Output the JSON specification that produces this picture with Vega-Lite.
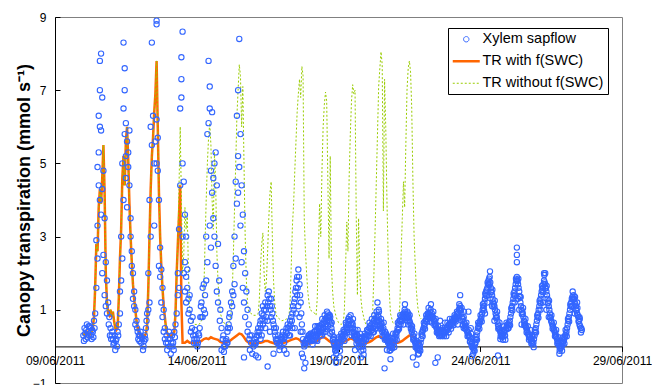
{
"$schema": "https://vega.github.io/schema/vega-lite/v6.json",
"width": 567, "height": 366,
"autosize": {"type": "none"},
"padding": {"left": 55, "top": 17, "right": 30, "bottom": 2},
"background": "white",
"config": {
  "view": {"stroke": "#808080", "strokeWidth": 1},
  "font": "Liberation Sans",
  "axis": {"grid": false, "labelFont": "Liberation Sans", "labelColor": "black", "domainColor": "black", "tickColor": "black", "labelFontSize": 12}
},
"datasets": {
"trw": [
{"t":24,"v":0.3},{"t":25,"v":0.35},{"t":26,"v":0.3},{"t":27,"v":0.4},{"t":28,"v":0.35},{"t":29,"v":0.3},{"t":30,"v":0.35},{"t":31,"v":0.4},{"t":32,"v":0.5},{"t":33,"v":0.8},{"t":34,"v":1.6},{"t":35,"v":2.8},{"t":36,"v":2.6},{"t":37,"v":3.8},{"t":38,"v":4.3},{"t":39,"v":3.9},{"t":40,"v":4.6},{"t":41,"v":5.5},{"t":42,"v":4.2},{"t":43,"v":2.0},{"t":44,"v":1.2},{"t":45,"v":0.9},{"t":46,"v":0.85},{"t":47,"v":1.0},{"t":48,"v":0.8},{"t":49,"v":0.95},{"t":50,"v":0.7},{"t":51,"v":0.5},{"t":52,"v":0.45},{"t":53,"v":0.5},{"t":54,"v":1.3},{"t":55,"v":2.4},{"t":56,"v":3.2},{"t":57,"v":4.6},{"t":58,"v":5.2},{"t":59,"v":4.4},{"t":60,"v":5.6},{"t":61,"v":6.0},{"t":62,"v":5.1},{"t":63,"v":3.9},{"t":64,"v":3.0},{"t":65,"v":2.3},{"t":66,"v":1.7},{"t":67,"v":1.3},{"t":68,"v":1.0},{"t":69,"v":0.7},{"t":70,"v":0.5},{"t":71,"v":0.4},{"t":72,"v":0.3},{"t":73,"v":0.3},{"t":74,"v":0.25},{"t":75,"v":0.3},{"t":76,"v":0.3},{"t":77,"v":0.35},{"t":78,"v":0.6},{"t":79,"v":1.6},{"t":80,"v":3.0},{"t":81,"v":4.3},{"t":82,"v":5.2},{"t":83,"v":5.7},{"t":84,"v":6.4},{"t":85,"v":6.9},{"t":86,"v":7.8},{"t":87,"v":6.0},{"t":88,"v":4.2},{"t":89,"v":3.0},{"t":90,"v":2.2},{"t":91,"v":1.6},{"t":92,"v":1.1},{"t":93,"v":0.8},{"t":94,"v":0.5},{"t":95,"v":0.35},{"t":96,"v":0.3},{"t":97,"v":0.3},{"t":98,"v":0.25},{"t":99,"v":0.3},{"t":100,"v":0.35},{"t":101,"v":0.4},{"t":102,"v":0.9},{"t":103,"v":2.0},{"t":104,"v":2.8},{"t":105,"v":3.6},{"t":106,"v":4.4},{"t":107,"v":1.2},{"t":108,"v":0.1},{"t":110,"v":0.1},{"t":112,"v":0.15},{"t":114,"v":0.1},{"t":116,"v":0.1},{"t":118,"v":0.1},{"t":120,"v":0.1},{"t":122,"v":0.12},{"t":124,"v":0.15},{"t":126,"v":0.2},{"t":128,"v":0.22},{"t":130,"v":0.2},{"t":132,"v":0.25},{"t":134,"v":0.22},{"t":136,"v":0.2},{"t":138,"v":0.18},{"t":140,"v":0.12},{"t":142,"v":0.1},{"t":144,"v":0.1},{"t":146,"v":0.12},{"t":148,"v":0.15},{"t":150,"v":0.2},{"t":152,"v":0.25},{"t":154,"v":0.3},{"t":156,"v":0.35},{"t":158,"v":0.33},{"t":160,"v":0.25},{"t":162,"v":0.15},{"t":164,"v":0.1},{"t":166,"v":0.08},{"t":168,"v":0.08},{"t":170,"v":0.08},{"t":172,"v":0.1},{"t":174,"v":0.1},{"t":176,"v":0.12},{"t":178,"v":0.15},{"t":180,"v":0.15},{"t":182,"v":0.12},{"t":184,"v":0.1},{"t":186,"v":0.08},{"t":188,"v":0.08},{"t":190,"v":0.1},{"t":192,"v":0.1},{"t":194,"v":0.1},{"t":196,"v":0.12},{"t":198,"v":0.15},{"t":200,"v":0.18},{"t":202,"v":0.2},{"t":204,"v":0.22},{"t":206,"v":0.2},{"t":208,"v":0.15},{"t":210,"v":0.1},{"t":212,"v":0.1},{"t":214,"v":0.08},{"t":216,"v":0.08},{"t":218,"v":0.1},{"t":220,"v":0.12},{"t":222,"v":0.15},{"t":224,"v":0.2},{"t":226,"v":0.25},{"t":228,"v":0.25},{"t":230,"v":0.2},{"t":232,"v":0.15},{"t":234,"v":0.1},{"t":236,"v":0.08},{"t":238,"v":0.08},{"t":240,"v":0.08},{"t":242,"v":0.1},{"t":244,"v":0.12},{"t":246,"v":0.15},{"t":248,"v":0.18},{"t":250,"v":0.22},{"t":252,"v":0.2},{"t":254,"v":0.15},{"t":256,"v":0.1},{"t":258,"v":0.08},{"t":260,"v":0.08},{"t":262,"v":0.08},{"t":264,"v":0.1},{"t":266,"v":0.12},{"t":268,"v":0.15},{"t":270,"v":0.2},{"t":272,"v":0.25},{"t":274,"v":0.28},{"t":276,"v":0.25},{"t":278,"v":0.2},{"t":280,"v":0.15},{"t":282,"v":0.1},{"t":284,"v":0.08},{"t":286,"v":0.08},{"t":288,"v":0.1},{"t":290,"v":0.1},{"t":292,"v":0.12},{"t":294,"v":0.15},{"t":296,"v":0.2},{"t":298,"v":0.25},{"t":300,"v":0.3},{"t":302,"v":0.3},{"t":304,"v":0.25},{"t":306,"v":0.15},{"t":308,"v":0.1},{"t":310,"v":0.08}
],
"tro": [
{"t":24,"v":0.3},{"t":25,"v":0.35},{"t":26,"v":0.3},{"t":27,"v":0.4},{"t":28,"v":0.35},{"t":29,"v":0.3},{"t":30,"v":0.35},{"t":31,"v":0.4},{"t":32,"v":0.5},{"t":33,"v":0.8},{"t":34,"v":1.6},{"t":35,"v":2.8},{"t":36,"v":2.6},{"t":37,"v":3.8},{"t":38,"v":4.3},{"t":39,"v":3.9},{"t":40,"v":4.6},{"t":41,"v":5.5},{"t":42,"v":4.2},{"t":43,"v":2.0},{"t":44,"v":1.2},{"t":45,"v":0.9},{"t":46,"v":0.85},{"t":47,"v":1.0},{"t":48,"v":0.8},{"t":49,"v":0.95},{"t":50,"v":0.7},{"t":51,"v":0.5},{"t":52,"v":0.45},{"t":53,"v":0.5},{"t":54,"v":1.3},{"t":55,"v":2.4},{"t":56,"v":3.2},{"t":57,"v":4.6},{"t":58,"v":5.2},{"t":59,"v":4.4},{"t":60,"v":5.6},{"t":61,"v":6.0},{"t":62,"v":5.1},{"t":63,"v":3.9},{"t":64,"v":3.0},{"t":65,"v":2.3},{"t":66,"v":1.7},{"t":67,"v":1.3},{"t":68,"v":1.0},{"t":69,"v":0.7},{"t":70,"v":0.5},{"t":71,"v":0.4},{"t":72,"v":0.3},{"t":73,"v":0.3},{"t":74,"v":0.25},{"t":75,"v":0.3},{"t":76,"v":0.3},{"t":77,"v":0.35},{"t":78,"v":0.6},{"t":79,"v":1.6},{"t":80,"v":3.0},{"t":81,"v":4.3},{"t":82,"v":5.2},{"t":83,"v":5.7},{"t":84,"v":6.4},{"t":85,"v":6.9},{"t":86,"v":7.8},{"t":87,"v":6.0},{"t":88,"v":4.2},{"t":89,"v":3.0},{"t":90,"v":2.2},{"t":91,"v":1.6},{"t":92,"v":1.1},{"t":93,"v":0.8},{"t":94,"v":0.5},{"t":95,"v":0.35},{"t":96,"v":0.3},{"t":97,"v":0.3},{"t":98,"v":0.25},{"t":99,"v":0.3},{"t":100,"v":0.35},{"t":101,"v":0.4},
{"t":102,"v":0.9},{"t":103,"v":2.0},{"t":104,"v":2.8},{"t":105,"v":4.4},{"t":106,"v":6.0},{"t":107,"v":4.0},{"t":108,"v":2.0},{"t":109,"v":2.5},{"t":110,"v":3.8},{"t":111,"v":3.2},{"t":112,"v":3.6},{"t":113,"v":2.0},{"t":114,"v":1.0},{"t":115,"v":0.8},{"t":116,"v":0.7},{"t":118,"v":0.6},{"t":120,"v":0.6},{"t":122,"v":0.6},{"t":124,"v":0.7},{"t":125,"v":0.9},{"t":126,"v":1.5},{"t":127,"v":2.8},{"t":128,"v":4.0},{"t":129,"v":5.0},{"t":130,"v":5.7},{"t":131,"v":6.1},{"t":132,"v":5.5},{"t":133,"v":4.0},{"t":134,"v":3.2},{"t":135,"v":5.3},{"t":136,"v":4.5},{"t":137,"v":2.6},{"t":138,"v":1.8},{"t":139,"v":1.2},{"t":140,"v":0.9},{"t":142,"v":0.7},{"t":144,"v":0.6},{"t":146,"v":0.6},{"t":148,"v":0.7},{"t":149,"v":0.9},{"t":150,"v":1.4},{"t":151,"v":2.5},{"t":152,"v":3.8},{"t":153,"v":5.0},{"t":154,"v":6.3},{"t":155,"v":7.0},{"t":156,"v":7.7},{"t":157,"v":7.4},{"t":158,"v":6.0},{"t":159,"v":7.1},{"t":160,"v":5.0},{"t":161,"v":3.0},{"t":162,"v":1.8},{"t":163,"v":1.2},{"t":164,"v":0.95},{"t":166,"v":0.9},{"t":168,"v":0.85},{"t":170,"v":0.85},{"t":172,"v":0.9},{"t":173,"v":1.3},{"t":174,"v":2.2},{"t":175,"v":2.8},{"t":176,"v":3.1},{"t":177,"v":2.0},{"t":178,"v":1.5},{"t":179,"v":1.8},{"t":180,"v":2.6},{"t":181,"v":3.5},{"t":182,"v":4.2},{"t":183,"v":4.5},{"t":184,"v":3.0},{"t":185,"v":1.8},{"t":186,"v":1.2},{"t":187,"v":0.9},{"t":188,"v":0.8},{"t":190,"v":0.75},{"t":192,"v":0.7},{"t":194,"v":0.72},
{"t":196,"v":0.75},{"t":198,"v":0.8},{"t":199,"v":1.2},{"t":200,"v":2.2},{"t":201,"v":3.3},{"t":202,"v":3.9},{"t":203,"v":4.8},{"t":204,"v":5.6},{"t":205,"v":6.4},{"t":206,"v":6.9},{"t":207,"v":7.3},{"t":208,"v":6.8},{"t":209,"v":7.65},{"t":210,"v":7.4},{"t":211,"v":3.5},{"t":212,"v":2.6},{"t":213,"v":2.0},{"t":214,"v":1.5},{"t":215,"v":1.2},{"t":216,"v":1.0},{"t":218,"v":0.95},{"t":220,"v":0.9},{"t":221,"v":0.85},{"t":222,"v":1.3},{"t":223,"v":2.6},{"t":224,"v":3.9},{"t":225,"v":3.0},{"t":226,"v":4.8},{"t":227,"v":6.0},{"t":228,"v":6.6},{"t":229,"v":6.95},{"t":230,"v":6.7},{"t":231,"v":4.5},{"t":232,"v":2.4},{"t":233,"v":5.2},{"t":234,"v":2.2},{"t":235,"v":1.5},{"t":236,"v":1.1},{"t":238,"v":0.8},{"t":240,"v":0.65},{"t":242,"v":0.6},{"t":244,"v":0.63},{"t":245,"v":1.0},{"t":246,"v":2.2},{"t":247,"v":3.4},{"t":248,"v":2.6},{"t":249,"v":4.6},{"t":250,"v":5.8},{"t":251,"v":6.7},{"t":252,"v":7.15},{"t":253,"v":6.9},{"t":254,"v":7.0},{"t":255,"v":3.6},{"t":256,"v":1.4},{"t":257,"v":3.5},{"t":258,"v":2.0},{"t":259,"v":1.3},{"t":260,"v":1.0},{"t":262,"v":0.7},{"t":264,"v":0.55},{"t":266,"v":0.55},{"t":268,"v":0.6},{"t":269,"v":1.0},{"t":270,"v":2.0},{"t":271,"v":3.2},{"t":272,"v":4.5},{"t":273,"v":5.8},{"t":274,"v":7.1},{"t":275,"v":7.6},{"t":276,"v":8.05},{"t":277,"v":7.7},{"t":278,"v":3.7},{"t":279,"v":7.3},{"t":280,"v":6.0},{"t":281,"v":4.0},{"t":282,"v":2.5},{"t":283,"v":1.5},{"t":284,"v":0.9},{"t":286,"v":0.65},{"t":288,"v":0.6},{"t":290,"v":0.6},{"t":291,"v":0.65},{"t":292,"v":1.2},{"t":293,"v":2.5},{"t":294,"v":3.5},{"t":295,"v":4.5},{"t":296,"v":3.8},{"t":297,"v":5.5},{"t":298,"v":7.0},{"t":299,"v":7.6},{"t":300,"v":7.8},{"t":301,"v":7.5},{"t":302,"v":6.5},{"t":303,"v":4.5},{"t":304,"v":3.0},{"t":305,"v":2.2},{"t":306,"v":1.5},{"t":307,"v":1.1},{"t":308,"v":0.9},{"t":309,"v":0.8},{"t":310,"v":0.75}
],
"sap": [
{"t":24,"v":0.3},{"t":25,"v":0.5},{"t":26,"v":0.2},{"t":27,"v":0.6},{"t":28,"v":0.4},{"t":29,"v":0.3},{"t":30,"v":0.5},{"t":31,"v":0.2},{"t":32,"v":0.4},{"t":33,"v":0.7},{"t":34,"v":0.9},{"t":35,"v":1.6},{"t":36,"v":2.4},{"t":37,"v":4.4},{"t":38,"v":6},{"t":39,"v":8},{"t":40,"v":6.8},{"t":41,"v":4.8},{"t":42,"v":3.5},{"t":43,"v":2.3},{"t":44,"v":1.8},{"t":45,"v":1.2},{"t":46,"v":0.8},{"t":47,"v":0.5},
{"t":24.5,"v":0.15},{"t":25.5,"v":0.35},{"t":26.5,"v":0.45},{"t":27.5,"v":0.25},{"t":28.5,"v":0.55},{"t":29.5,"v":0.55},{"t":30.5,"v":0.3},{"t":31.5,"v":0.45},{"t":32.5,"v":0.25},{"t":33.5,"v":0.5},{"t":35,"v":2.9},{"t":36,"v":3.3},{"t":36,"v":4.9},{"t":37,"v":5.3},{"t":37,"v":6.3},{"t":38,"v":7},{"t":38,"v":4},{"t":38,"v":7.8},{"t":39,"v":5.9},{"t":39,"v":3.6},{"t":40,"v":4.3},{"t":40,"v":2},{"t":41,"v":2.5},{"t":42,"v":1.4},{"t":43,"v":1.1},{"t":44,"v":0.9},{"t":45.5,"v":0.6},{"t":46.5,"v":0.3},
{"t":48,"v":0.3},{"t":49,"v":0.2},{"t":50,"v":0.1},{"t":51,"v":-0.1},{"t":52,"v":0.2},{"t":53,"v":0.4},{"t":54,"v":0.6},{"t":55,"v":1.5},{"t":56,"v":3},{"t":57,"v":5},{"t":58,"v":8.3},{"t":59,"v":7},{"t":60,"v":6.1},{"t":61,"v":5.6},{"t":62,"v":5.3},{"t":63,"v":4.4},{"t":64,"v":3.5},{"t":65,"v":2.6},{"t":66,"v":2},{"t":67,"v":1.5},{"t":68,"v":1},{"t":69,"v":0.7},{"t":70,"v":0.4},{"t":71,"v":0.3},
{"t":47.5,"v":0.2},{"t":48.5,"v":0.4},{"t":49.5,"v":0.05},{"t":50.5,"v":0.3},{"t":51.5,"v":0.15},{"t":52.5,"v":0},{"t":53.5,"v":0.3},{"t":55,"v":0.9},{"t":56,"v":1.8},{"t":57,"v":2.4},{"t":58,"v":6.5},{"t":58,"v":4},{"t":59,"v":5.8},{"t":59,"v":7.6},{"t":60,"v":4.6},{"t":60,"v":5.2},{"t":61,"v":3.8},{"t":62,"v":4.9},{"t":63,"v":5.9},{"t":64,"v":3},{"t":65,"v":2.2},{"t":66,"v":1.3},{"t":67,"v":1.1},{"t":68,"v":0.6},{"t":69.5,"v":0.5},{"t":70.5,"v":0.2},
{"t":72,"v":0.3},{"t":73,"v":0.1},{"t":74,"v":0.2},{"t":75,"v":0},{"t":76,"v":0.3},{"t":77,"v":0.5},{"t":78,"v":0.9},{"t":79,"v":2},{"t":80,"v":4},{"t":81,"v":6},{"t":82,"v":8.3},{"t":83,"v":6.3},{"t":84,"v":5},{"t":85,"v":5.6},{"t":86,"v":8.9},{"t":87,"v":4.8},{"t":88,"v":4},{"t":89,"v":2.7},{"t":90,"v":2.1},{"t":91,"v":1.6},{"t":92,"v":1},{"t":93,"v":0.5},{"t":94,"v":0.1},{"t":95,"v":-0.1},
{"t":71.5,"v":0.15},{"t":72.5,"v":0.4},{"t":73.5,"v":0.25},{"t":74.5,"v":-0.1},{"t":75.5,"v":0.15},{"t":76.5,"v":0.2},{"t":77.5,"v":0.7},{"t":79,"v":1},{"t":80,"v":1.2},{"t":81,"v":3},{"t":82,"v":5.5},{"t":84,"v":3.3},{"t":86,"v":8.8},{"t":86,"v":6.2},{"t":86,"v":5},{"t":87,"v":5.7},{"t":88,"v":2.2},{"t":89,"v":1.9},{"t":90,"v":1.2},{"t":91,"v":0.8},{"t":92,"v":0.4},{"t":93,"v":0.2},{"t":94.5,"v":0.3},
{"t":96,"v":0.2},{"t":97,"v":0},{"t":98,"v":-0.2},{"t":99,"v":0.3},{"t":100,"v":0.1},{"t":101,"v":0.4},{"t":102,"v":0.6},{"t":103,"v":0.9},{"t":104,"v":2},{"t":105,"v":3.2},{"t":106,"v":6.5},{"t":107,"v":7.9},{"t":108,"v":8.6},{"t":109,"v":4.5},{"t":110,"v":2.3},{"t":111,"v":1.9},{"t":112,"v":1.6},{"t":113,"v":1.3},{"t":114,"v":1},{"t":115,"v":0.7},{"t":116,"v":0.5},{"t":117,"v":0.3},{"t":118,"v":0.2},{"t":119,"v":0.3},
{"t":95.5,"v":0.1},{"t":96.5,"v":0.4},{"t":97.5,"v":0.2},{"t":98.5,"v":0.1},{"t":99.5,"v":0},{"t":100.5,"v":-0.1},{"t":101.5,"v":0.25},{"t":104,"v":1.4},{"t":105,"v":1.6},{"t":106,"v":4.4},{"t":107,"v":7.3},{"t":107,"v":6.8},{"t":108,"v":5},{"t":108,"v":3},{"t":109,"v":2},{"t":110,"v":3.6},{"t":110,"v":1.5},{"t":111,"v":3},{"t":111,"v":1.2},{"t":112,"v":2.1},{"t":113,"v":0.9},{"t":114,"v":1.4},{"t":115,"v":0.4},{"t":116.5,"v":0.8},{"t":117.5,"v":0.1},{"t":118.5,"v":0.45},
{"t":120,"v":0.2},{"t":121,"v":0.1},{"t":122,"v":0.3},{"t":123,"v":0.8},{"t":124,"v":1.2},{"t":125,"v":1.6},{"t":126,"v":1},{"t":127,"v":1.4},{"t":128,"v":3},{"t":129,"v":5.8},{"t":130,"v":7.8},{"t":131,"v":6.5},{"t":132,"v":4.8},{"t":133,"v":4.2},{"t":134,"v":3.5},{"t":135,"v":5},{"t":136,"v":5.3},{"t":137,"v":4.4},{"t":138,"v":2.8},{"t":139,"v":1.8},{"t":140,"v":1},{"t":141,"v":0.5},{"t":142,"v":0.2},{"t":143,"v":0},
{"t":119.5,"v":0.1},{"t":120.5,"v":0},{"t":121.5,"v":0.35},{"t":122.5,"v":0.5},{"t":123.5,"v":1.1},{"t":124,"v":0.8},{"t":125,"v":0.8},{"t":126,"v":1.7},{"t":127,"v":0.9},{"t":128,"v":1.8},{"t":129,"v":2.3},{"t":130,"v":6.1},{"t":131,"v":7.1},{"t":131,"v":3.3},{"t":132,"v":2.7},{"t":133,"v":6.4},{"t":134,"v":4.6},{"t":135,"v":3},{"t":136,"v":2.2},{"t":137,"v":1.5},{"t":138,"v":1.2},{"t":139.5,"v":0.7},{"t":141,"v":-0.1},{"t":142.5,"v":0.3},{"t":143,"v":-0.15},
{"t":144,"v":0},{"t":145,"v":0.2},{"t":146,"v":0.4},{"t":147,"v":0.6},{"t":148,"v":0.9},{"t":149,"v":1.2},{"t":150,"v":1.5},{"t":151,"v":2.2},{"t":152,"v":3},{"t":153,"v":4.5},{"t":154,"v":6.3},{"t":155,"v":7},{"t":156,"v":8.4},{"t":157,"v":5.8},{"t":158,"v":4.4},{"t":159,"v":3.6},{"t":160,"v":2.6},{"t":161,"v":2},{"t":162,"v":1.5},{"t":163,"v":1},{"t":164,"v":0.6},{"t":165,"v":0.3},{"t":166,"v":0.1},{"t":167,"v":-0.2},
{"t":144.5,"v":0.15},{"t":145.5,"v":0.1},{"t":146,"v":0.1},{"t":146.5,"v":0.5},{"t":147.5,"v":0.8},{"t":148,"v":0.5},{"t":150,"v":1.1},{"t":151,"v":1.4},{"t":152,"v":1.7},{"t":153,"v":2.4},{"t":154,"v":3.9},{"t":155,"v":5.2},{"t":155,"v":4.2},{"t":156,"v":4.9},{"t":157,"v":3.3},{"t":158,"v":2.3},{"t":159,"v":1.6},{"t":160,"v":1.2},{"t":160,"v":-0.3},{"t":161,"v":0.8},{"t":163,"v":0.4},{"t":164.5,"v":0.2},{"t":165,"v":-0.1},{"t":166.5,"v":0.3},
{"t":168,"v":0},{"t":169,"v":0.2},{"t":170,"v":0.1},{"t":171,"v":0.3},{"t":172,"v":0.5},{"t":173,"v":0.4},{"t":174,"v":0.7},{"t":175,"v":0.9},{"t":176,"v":0.6},{"t":177,"v":1},{"t":178,"v":1.2},{"t":179,"v":0.8},{"t":180,"v":1.4},{"t":181,"v":1.5},{"t":182,"v":1.1},{"t":183,"v":1.3},{"t":184,"v":0.9},{"t":185,"v":0.6},{"t":186,"v":0.4},{"t":187,"v":0.2},{"t":188,"v":0.1},{"t":189,"v":0.3},{"t":190,"v":-0.1},{"t":191,"v":0},
{"t":170,"v":-0.25},{"t":172,"v":-0.3},{"t":174,"v":0.2},{"t":175,"v":0.3},{"t":176,"v":1.1},{"t":178,"v":0.5},{"t":180,"v":0.7},{"t":180,"v":-0.55},{"t":182,"v":0.4},{"t":183,"v":0.8},{"t":185,"v":-0.2},{"t":187,"v":0.5},
{"t":168.5,"v":0.1},{"t":169.5,"v":0.05},{"t":170.5,"v":0.25},{"t":171.5,"v":0.4},{"t":172.5,"v":0.3},{"t":173.5,"v":0.6},{"t":174.5,"v":0.5},{"t":175.5,"v":0.75},{"t":176.5,"v":0.85},{"t":177.5,"v":0.7},{"t":178.5,"v":1.0},{"t":179.5,"v":1.1},{"t":180.5,"v":1.2},{"t":181.5,"v":1.3},{"t":182.5,"v":1.0},{"t":183.5,"v":1.1},{"t":184.5,"v":0.7},{"t":185.5,"v":0.5},{"t":186.5,"v":0.3},{"t":187.5,"v":0.15},{"t":188.5,"v":0.2},{"t":189.5,"v":0.05},{"t":190.5,"v":0.1},{"t":191.5,"v":0.25},
{"t":192,"v":0.2},{"t":193,"v":0.4},{"t":194,"v":0.1},{"t":195,"v":0.3},{"t":196,"v":0.5},{"t":197,"v":0.6},{"t":198,"v":0.3},{"t":199,"v":0.7},{"t":200,"v":0.8},{"t":201,"v":0.9},{"t":202,"v":1},{"t":203,"v":1.3},{"t":204,"v":1.6},{"t":205,"v":1.9},{"t":206,"v":2.1},{"t":207,"v":1.7},{"t":208,"v":1.2},{"t":209,"v":0.6},{"t":210,"v":0.2},{"t":211,"v":0},{"t":212,"v":0.1},{"t":213,"v":0.2},{"t":214,"v":0.2},{"t":215,"v":0.3},
{"t":194,"v":-0.1},{"t":196,"v":-0.2},{"t":199,"v":0.3},{"t":201,"v":0.5},{"t":203,"v":0.5},{"t":204,"v":0.9},{"t":205,"v":1.4},{"t":206,"v":1.1},{"t":207,"v":0.8},{"t":208,"v":0.4},{"t":209,"v":-0.2},{"t":210,"v":-0.3},{"t":211,"v":-0.6},{"t":212,"v":-0.45},
{"t":192.5,"v":0.3},{"t":193.5,"v":0.2},{"t":194.5,"v":0.25},{"t":195.5,"v":0.4},{"t":196.5,"v":0.35},{"t":197.5,"v":0.5},{"t":198.5,"v":0.55},{"t":199.5,"v":0.6},{"t":200.5,"v":0.7},{"t":201.5,"v":1.1},{"t":202.5,"v":1.2},{"t":203.5,"v":1.5},{"t":204.5,"v":1.8},{"t":205.5,"v":1.6},{"t":206.5,"v":1.9},{"t":207.5,"v":1.4},{"t":208.5,"v":0.9},{"t":209.5,"v":0.4},{"t":210.5,"v":0.1},{"t":211.5,"v":0.05},{"t":212.5,"v":0.15},{"t":213.5,"v":0.1},{"t":214.5,"v":0.3},{"t":215.5,"v":0.25},
{"t":216,"v":0.2},{"t":217,"v":0.3},{"t":218,"v":0.2},{"t":219,"v":0.3},{"t":220,"v":0.4},{"t":221,"v":0.3},{"t":222,"v":0.4},{"t":223,"v":0.5},{"t":224,"v":0.4},{"t":225,"v":0.5},{"t":226,"v":0.6},{"t":227,"v":0.5},{"t":228,"v":0.7},{"t":229,"v":0.6},{"t":230,"v":0.8},{"t":231,"v":0.9},{"t":232,"v":0.7},{"t":233,"v":0.8},{"t":234,"v":0.5},{"t":235,"v":0.3},{"t":236,"v":0.1},{"t":237,"v":0},{"t":238,"v":-0.2},{"t":239,"v":0.1},
{"t":218,"v":0.05},{"t":222,"v":0.15},{"t":226,"v":0.3},{"t":229,"v":0.4},{"t":231,"v":0.55},{"t":233,"v":0.35},{"t":236,"v":-0.3},{"t":238,"v":-0.45},
{"t":216.5,"v":0.35},{"t":217.5,"v":0.15},{"t":218.5,"v":0.3},{"t":219.5,"v":0.4},{"t":220.5,"v":0.25},{"t":221.5,"v":0.45},{"t":222.5,"v":0.35},{"t":223.5,"v":0.55},{"t":224.5,"v":0.3},{"t":225.5,"v":0.6},{"t":226.5,"v":0.45},{"t":227.5,"v":0.65},{"t":228.5,"v":0.55},{"t":229.5,"v":0.75},{"t":230.5,"v":0.7},{"t":231.5,"v":0.8},{"t":232.5,"v":0.85},{"t":233.5,"v":0.6},{"t":234.5,"v":0.4},{"t":235.5,"v":0.2},{"t":236.5,"v":0.05},{"t":237.5,"v":-0.1},{"t":238.5,"v":0},{"t":239.5,"v":0.05},
{"t":216.25,"v":0.35},{"t":217.25,"v":0.18},{"t":218.25,"v":0.35},{"t":219.25,"v":0.18},{"t":220.25,"v":0.55},{"t":221.25,"v":0.18},{"t":222.25,"v":0.55},{"t":223.25,"v":0.38},{"t":224.25,"v":0.55},{"t":225.25,"v":0.38},{"t":226.25,"v":0.75},{"t":227.25,"v":0.38},{"t":228.25,"v":0.85},{"t":229.25,"v":0.48},{"t":230.25,"v":0.95},{"t":231.25,"v":0.78},{"t":232.25,"v":0.85},{"t":233.25,"v":0.68},{"t":234.25,"v":0.65},{"t":235.25,"v":0.18},{"t":236.25,"v":0.25},{"t":237.25,"v":-0.12},{"t":238.25,"v":-0.05},{"t":239.25,"v":-0.02},
{"t":240,"v":0.1},{"t":241,"v":0},{"t":242,"v":0.2},{"t":243,"v":0.3},{"t":244,"v":0.3},{"t":245,"v":0.4},{"t":246,"v":0.5},{"t":247,"v":0.5},{"t":248,"v":0.6},{"t":249,"v":0.6},{"t":250,"v":0.7},{"t":251,"v":0.5},{"t":252,"v":0.6},{"t":253,"v":0.4},{"t":254,"v":0.3},{"t":255,"v":0.2},{"t":256,"v":0.3},{"t":257,"v":0.1},{"t":258,"v":0.2},{"t":259,"v":0},{"t":260,"v":0.1},{"t":261,"v":-0.1},{"t":262,"v":0.2},{"t":263,"v":0.3},
{"t":241,"v":-0.3},{"t":245,"v":0.15},{"t":249,"v":0.8},{"t":251,"v":0.3},{"t":254,"v":-0.1},{"t":259,"v":-0.3},
{"t":240.5,"v":0.2},{"t":241.5,"v":0.1},{"t":242.5,"v":0.25},{"t":243.5,"v":0.2},{"t":244.5,"v":0.4},{"t":245.5,"v":0.35},{"t":246.5,"v":0.6},{"t":247.5,"v":0.45},{"t":248.5,"v":0.7},{"t":249.5,"v":0.5},{"t":250.5,"v":0.6},{"t":251.5,"v":0.65},{"t":252.5,"v":0.5},{"t":253.5,"v":0.35},{"t":254.5,"v":0.25},{"t":255.5,"v":0.3},{"t":256.5,"v":0.15},{"t":257.5,"v":0.25},{"t":258.5,"v":0.1},{"t":259.5,"v":0.15},{"t":260.5,"v":0},{"t":261.5,"v":0.1},{"t":262.5,"v":0.25},{"t":263.5,"v":0.2},
{"t":240.25,"v":0.25},{"t":241.25,"v":-0.12},{"t":242.25,"v":0.35},{"t":243.25,"v":0.18},{"t":244.25,"v":0.45},{"t":245.25,"v":0.28},{"t":246.25,"v":0.65},{"t":247.25,"v":0.38},{"t":248.25,"v":0.75},{"t":249.25,"v":0.48},{"t":250.25,"v":0.85},{"t":251.25,"v":0.38},{"t":252.25,"v":0.75},{"t":253.25,"v":0.28},{"t":254.25,"v":0.45},{"t":255.25,"v":0.08},{"t":256.25,"v":0.45},{"t":257.25,"v":-0.02},{"t":258.25,"v":0.35},{"t":259.25,"v":-0.12},{"t":260.25,"v":0.25},{"t":261.25,"v":-0.22},{"t":262.25,"v":0.35},{"t":263.25,"v":0.18},
{"t":264,"v":0.3},{"t":265,"v":0.4},{"t":266,"v":0.5},{"t":267,"v":0.4},{"t":268,"v":0.6},{"t":269,"v":0.5},{"t":270,"v":0.7},{"t":271,"v":0.6},{"t":272,"v":0.8},{"t":273,"v":0.7},{"t":274,"v":0.8},{"t":275,"v":0.6},{"t":276,"v":0.5},{"t":277,"v":0.4},{"t":278,"v":0.5},{"t":279,"v":0.3},{"t":280,"v":0.2},{"t":281,"v":0.3},{"t":282,"v":0.1},{"t":283,"v":0},{"t":284,"v":-0.1},{"t":285,"v":0.1},{"t":286,"v":0.2},{"t":287,"v":0.1},
{"t":270,"v":0.4},{"t":273,"v":1.2},{"t":274,"v":1.0},{"t":276,"v":0.75},{"t":279,"v":-0.6},{"t":281,"v":-0.1},{"t":284,"v":-0.35},
{"t":264.5,"v":0.45},{"t":265.5,"v":0.3},{"t":266.5,"v":0.55},{"t":267.5,"v":0.5},{"t":268.5,"v":0.45},{"t":269.5,"v":0.65},{"t":270.5,"v":0.55},{"t":271.5,"v":0.75},{"t":272.5,"v":0.65},{"t":273.5,"v":0.85},{"t":274.5,"v":0.7},{"t":275.5,"v":0.55},{"t":276.5,"v":0.6},{"t":277.5,"v":0.45},{"t":278.5,"v":0.35},{"t":279.5,"v":0.4},{"t":280.5,"v":0.25},{"t":281.5,"v":0.15},{"t":282.5,"v":0.2},{"t":283.5,"v":0.05},{"t":284.5,"v":0},{"t":285.5,"v":-0.05},{"t":286.5,"v":0.15},{"t":287.5,"v":0.25},
{"t":264.25,"v":0.45},{"t":265.25,"v":0.28},{"t":266.25,"v":0.65},{"t":267.25,"v":0.28},{"t":268.25,"v":0.75},{"t":269.25,"v":0.38},{"t":270.25,"v":0.85},{"t":271.25,"v":0.48},{"t":272.25,"v":0.95},{"t":273.25,"v":0.58},{"t":274.25,"v":0.95},{"t":275.25,"v":0.48},{"t":276.25,"v":0.65},{"t":277.25,"v":0.28},{"t":278.25,"v":0.65},{"t":279.25,"v":0.18},{"t":280.25,"v":0.35},{"t":281.25,"v":0.18},{"t":282.25,"v":0.25},{"t":283.25,"v":-0.12},{"t":284.25,"v":0.05},{"t":285.25,"v":-0.02},{"t":286.25,"v":0.35},{"t":287.25,"v":-0.02},
{"t":288,"v":0.2},{"t":289,"v":0.3},{"t":290,"v":0.5},{"t":291,"v":0.6},{"t":292,"v":0.7},{"t":293,"v":0.8},{"t":294,"v":0.7},{"t":295,"v":0.9},{"t":296,"v":1.0},{"t":297,"v":0.9},{"t":298,"v":0.8},{"t":299,"v":0.9},{"t":300,"v":0.7},{"t":301,"v":0.6},{"t":302,"v":0.4},{"t":303,"v":0.3},{"t":304,"v":0.2},{"t":305,"v":0.1},{"t":306,"v":0},{"t":307,"v":-0.1},{"t":308,"v":-0.2},{"t":309,"v":0},{"t":310,"v":0.2},{"t":311,"v":0.4},
{"t":295,"v":0.6},{"t":299,"v":0.6},{"t":303,"v":-0.3},{"t":306,"v":-0.5},{"t":308,"v":0.1},
{"t":288.5,"v":0.35},{"t":289.5,"v":0.4},{"t":290.5,"v":0.45},{"t":291.5,"v":0.7},{"t":292.5,"v":0.6},{"t":293.5,"v":0.75},{"t":294.5,"v":0.85},{"t":295.5,"v":0.8},{"t":296.5,"v":0.95},{"t":297.5,"v":0.85},{"t":298.5,"v":0.7},{"t":299.5,"v":0.8},{"t":300.5,"v":0.65},{"t":301.5,"v":0.5},{"t":302.5,"v":0.45},{"t":303.5,"v":0.25},{"t":304.5,"v":0.15},{"t":305.5,"v":0.05},{"t":306.5,"v":-0.05},{"t":307.5,"v":0.05},{"t":308.5,"v":-0.1},{"t":309.5,"v":0.1},{"t":310.5,"v":0.3},{"t":311.5,"v":0.45},
{"t":288.25,"v":0.35},{"t":289.25,"v":0.18},{"t":290.25,"v":0.65},{"t":291.25,"v":0.48},{"t":292.25,"v":0.85},{"t":293.25,"v":0.68},{"t":294.25,"v":0.85},{"t":295.25,"v":0.78},{"t":296.25,"v":1.15},{"t":297.25,"v":0.78},{"t":298.25,"v":0.95},{"t":299.25,"v":0.78},{"t":300.25,"v":0.85},{"t":301.25,"v":0.48},{"t":302.25,"v":0.55},{"t":303.25,"v":0.18},{"t":304.25,"v":0.35},{"t":305.25,"v":-0.02},{"t":306.25,"v":0.15},{"t":307.25,"v":-0.22},{"t":308.25,"v":-0.05},{"t":309.25,"v":-0.12},{"t":310.25,"v":0.35},{"t":311.25,"v":0.28},
{"t":312,"v":0.5},{"t":313,"v":0.6},{"t":314,"v":0.7},{"t":315,"v":0.8},{"t":316,"v":0.9},{"t":317,"v":0.8},{"t":318,"v":1.0},{"t":319,"v":0.9},{"t":320,"v":0.8},{"t":321,"v":0.7},{"t":322,"v":0.6},{"t":323,"v":0.5},{"t":324,"v":0.4},{"t":325,"v":0.4},{"t":326,"v":0.3},{"t":327,"v":0.4},{"t":328,"v":0.3},{"t":329,"v":0.4},{"t":330,"v":0.5},{"t":331,"v":0.4},{"t":332,"v":0.5},{"t":333,"v":0.5},{"t":334,"v":0.6},{"t":335,"v":0.6},
{"t":319,"v":0.65},{"t":322,"v":-0.45},{"t":324,"v":-0.3},{"t":326,"v":0.7},{"t":328,"v":0.5},
{"t":312.5,"v":0.55},{"t":313.5,"v":0.7},{"t":314.5,"v":0.75},{"t":315.5,"v":0.9},{"t":316.5,"v":0.85},{"t":317.5,"v":0.95},{"t":318.5,"v":0.85},{"t":319.5,"v":0.8},{"t":320.5,"v":0.75},{"t":321.5,"v":0.65},{"t":322.5,"v":0.55},{"t":323.5,"v":0.45},{"t":324.5,"v":0.35},{"t":325.5,"v":0.45},{"t":326.5,"v":0.35},{"t":327.5,"v":0.3},{"t":328.5,"v":0.4},{"t":329.5,"v":0.35},{"t":330.5,"v":0.45},{"t":331.5,"v":0.5},{"t":332.5,"v":0.45},{"t":333.5,"v":0.6},{"t":334.5,"v":0.55},{"t":335.5,"v":0.65},
{"t":312.25,"v":0.65},{"t":313.25,"v":0.48},{"t":314.25,"v":0.85},{"t":315.25,"v":0.68},{"t":316.25,"v":1.05},{"t":317.25,"v":0.68},{"t":318.25,"v":1.15},{"t":319.25,"v":0.78},{"t":320.25,"v":0.95},{"t":321.25,"v":0.58},{"t":322.25,"v":0.75},{"t":323.25,"v":0.38},{"t":324.25,"v":0.55},{"t":325.25,"v":0.28},{"t":326.25,"v":0.45},{"t":327.25,"v":0.28},{"t":328.25,"v":0.45},{"t":329.25,"v":0.28},{"t":330.25,"v":0.65},{"t":331.25,"v":0.28},{"t":332.25,"v":0.65},{"t":333.25,"v":0.38},{"t":334.25,"v":0.75},{"t":335.25,"v":0.48},
{"t":336,"v":0.6},{"t":337,"v":0.7},{"t":338,"v":0.7},{"t":339,"v":0.8},{"t":340,"v":0.8},{"t":341,"v":0.9},{"t":342,"v":1.0},{"t":343,"v":1.1},{"t":344,"v":0.9},{"t":345,"v":0.7},{"t":346,"v":0.8},{"t":347,"v":0.6},{"t":348,"v":0.5},{"t":349,"v":0.4},{"t":350,"v":0.3},{"t":351,"v":0.25},{"t":352,"v":0.2},{"t":353,"v":0.1},{"t":354,"v":-0.2},{"t":355,"v":0},{"t":356,"v":0.1},{"t":357,"v":0.3},{"t":358,"v":0.5},{"t":359,"v":0.6},
{"t":341,"v":0.6},{"t":343,"v":1.4},{"t":346,"v":0.5},{"t":350,"v":0.95},{"t":352,"v":0.5},{"t":353,"v":-0.27},
{"t":336.5,"v":0.65},{"t":337.5,"v":0.75},{"t":338.5,"v":0.8},{"t":339.5,"v":0.75},{"t":340.5,"v":0.9},{"t":341.5,"v":0.85},{"t":342.5,"v":1.05},{"t":343.5,"v":1.0},{"t":344.5,"v":0.8},{"t":345.5,"v":0.75},{"t":346.5,"v":0.65},{"t":347.5,"v":0.55},{"t":348.5,"v":0.45},{"t":349.5,"v":0.35},{"t":350.5,"v":0.3},{"t":351.5,"v":0.15},{"t":352.5,"v":0.05},{"t":353.5,"v":0.0},{"t":354.5,"v":-0.1},{"t":355.5,"v":0.05},{"t":356.5,"v":0.2},{"t":357.5,"v":0.4},{"t":358.5,"v":0.55},{"t":359.5,"v":0.65},
{"t":336.25,"v":0.75},{"t":337.25,"v":0.58},{"t":338.25,"v":0.85},{"t":339.25,"v":0.68},{"t":340.25,"v":0.95},{"t":341.25,"v":0.78},{"t":342.25,"v":1.15},{"t":343.25,"v":0.98},{"t":344.25,"v":1.05},{"t":345.25,"v":0.58},{"t":346.25,"v":0.95},{"t":347.25,"v":0.48},{"t":348.25,"v":0.65},{"t":349.25,"v":0.28},{"t":350.25,"v":0.45},{"t":351.25,"v":0.13},{"t":352.25,"v":0.35},{"t":353.25,"v":-0.02},{"t":354.25,"v":-0.05},{"t":355.25,"v":-0.12},{"t":356.25,"v":0.25},{"t":357.25,"v":0.18},{"t":358.25,"v":0.65},{"t":359.25,"v":0.48},
{"t":360,"v":0.7},{"t":361,"v":0.8},{"t":362,"v":1.0},{"t":363,"v":1.1},{"t":364,"v":1.3},{"t":365,"v":1.5},{"t":366,"v":1.6},{"t":367,"v":1.8},{"t":368,"v":1.9},{"t":369,"v":1.6},{"t":370,"v":1.4},{"t":371,"v":1.2},{"t":372,"v":1.1},{"t":373,"v":0.9},{"t":374,"v":0.8},{"t":375,"v":0.6},{"t":376,"v":0.5},{"t":377,"v":0.4},{"t":378,"v":0.3},{"t":379,"v":0.3},{"t":380,"v":0.4},{"t":381,"v":0.3},{"t":382,"v":0.5},{"t":383,"v":0.6},
{"t":364,"v":0.9},{"t":366,"v":1.2},{"t":367,"v":1.4},{"t":368,"v":1.7},{"t":370,"v":1.1},{"t":372,"v":0.7},{"t":375,"v":-0.25},{"t":377,"v":0.2},
{"t":360.5,"v":0.75},{"t":361.5,"v":0.9},{"t":362.5,"v":1.05},{"t":363.5,"v":1.2},{"t":364.5,"v":1.4},{"t":365.5,"v":1.55},{"t":366.5,"v":1.7},{"t":367.5,"v":1.85},{"t":368.5,"v":1.75},{"t":369.5,"v":1.5},{"t":370.5,"v":1.3},{"t":371.5,"v":1.15},{"t":372.5,"v":1.0},{"t":373.5,"v":0.85},{"t":374.5,"v":0.7},{"t":375.5,"v":0.55},{"t":376.5,"v":0.45},{"t":377.5,"v":0.35},{"t":378.5,"v":0.25},{"t":379.5,"v":0.35},{"t":380.5,"v":0.3},{"t":381.5,"v":0.45},{"t":382.5,"v":0.55},{"t":383.5,"v":0.5},
{"t":360.25,"v":0.85},{"t":361.25,"v":0.68},{"t":362.25,"v":1.15},{"t":363.25,"v":0.98},{"t":364.25,"v":1.45},{"t":365.25,"v":1.38},{"t":366.25,"v":1.75},{"t":367.25,"v":1.68},{"t":368.25,"v":2.05},{"t":369.25,"v":1.48},{"t":370.25,"v":1.55},{"t":371.25,"v":1.08},{"t":372.25,"v":1.25},{"t":373.25,"v":0.78},{"t":374.25,"v":0.95},{"t":375.25,"v":0.48},{"t":376.25,"v":0.65},{"t":377.25,"v":0.28},{"t":378.25,"v":0.45},{"t":379.25,"v":0.18},{"t":380.25,"v":0.55},{"t":381.25,"v":0.18},{"t":382.25,"v":0.65},{"t":383.25,"v":0.48},
{"t":384,"v":0.5},{"t":385,"v":0.7},{"t":386,"v":0.9},{"t":387,"v":1.1},{"t":388,"v":1.3},{"t":389,"v":1.5},{"t":390,"v":1.7},{"t":391,"v":1.9},{"t":392,"v":1.7},{"t":393,"v":1.5},{"t":394,"v":1.2},{"t":395,"v":1.0},{"t":396,"v":0.9},{"t":397,"v":0.7},{"t":398,"v":0.6},{"t":399,"v":0.5},{"t":400,"v":0.4},{"t":401,"v":0.3},{"t":402,"v":0.3},{"t":403,"v":0.2},{"t":404,"v":0.1},{"t":405,"v":0.1},{"t":406,"v":0.3},{"t":407,"v":0.5},
{"t":389,"v":1.2},{"t":391,"v":2.3},{"t":391,"v":2.5},{"t":391,"v":2.7},{"t":392,"v":1.3},{"t":393,"v":1.0},{"t":395,"v":0.6},{"t":404,"v":0.3},
{"t":384.5,"v":0.6},{"t":385.5,"v":0.8},{"t":386.5,"v":1.0},{"t":387.5,"v":1.2},{"t":388.5,"v":1.4},{"t":389.5,"v":1.6},{"t":390.5,"v":1.8},{"t":391.5,"v":1.8},{"t":392.5,"v":1.6},{"t":393.5,"v":1.35},{"t":394.5,"v":1.1},{"t":395.5,"v":0.95},{"t":396.5,"v":0.8},{"t":397.5,"v":0.65},{"t":398.5,"v":0.55},{"t":399.5,"v":0.45},{"t":400.5,"v":0.35},{"t":401.5,"v":0.25},{"t":402.5,"v":0.2},{"t":403.5,"v":0.15},{"t":404.5,"v":0.05},{"t":405.5,"v":0.2},{"t":406.5,"v":0.4},{"t":407.5,"v":0.6},
{"t":384.25,"v":0.65},{"t":385.25,"v":0.58},{"t":386.25,"v":1.05},{"t":387.25,"v":0.98},{"t":388.25,"v":1.45},{"t":389.25,"v":1.38},{"t":390.25,"v":1.85},{"t":391.25,"v":1.78},{"t":392.25,"v":1.85},{"t":393.25,"v":1.38},{"t":394.25,"v":1.35},{"t":395.25,"v":0.88},{"t":396.25,"v":1.05},{"t":397.25,"v":0.58},{"t":398.25,"v":0.75},{"t":399.25,"v":0.38},{"t":400.25,"v":0.55},{"t":401.25,"v":0.18},{"t":402.25,"v":0.45},{"t":403.25,"v":0.08},{"t":404.25,"v":0.25},{"t":405.25,"v":-0.02},{"t":406.25,"v":0.45},{"t":407.25,"v":0.38},
{"t":408,"v":0.7},{"t":409,"v":0.9},{"t":410,"v":1.1},{"t":411,"v":1.3},{"t":412,"v":1.5},{"t":413,"v":1.6},{"t":414,"v":1.8},{"t":415,"v":1.7},{"t":416,"v":1.5},{"t":417,"v":1.3},{"t":418,"v":1.1},{"t":419,"v":0.9},{"t":420,"v":0.7},{"t":421,"v":0.6},{"t":422,"v":0.5},{"t":423,"v":0.4},{"t":424,"v":0.3},{"t":425,"v":0.2},{"t":426,"v":0.1},{"t":427,"v":0},{"t":428,"v":-0.05},{"t":429,"v":0},{"t":430,"v":0.1},{"t":431,"v":0.2},
{"t":411,"v":1.0},{"t":413,"v":1.2},{"t":414,"v":2.0},{"t":415,"v":2.0},{"t":416,"v":1.0},{"t":418,"v":0.8},{"t":427,"v":-0.2},
{"t":408.5,"v":0.8},{"t":409.5,"v":1.0},{"t":410.5,"v":1.2},{"t":411.5,"v":1.4},{"t":412.5,"v":1.55},{"t":413.5,"v":1.7},{"t":414.5,"v":1.75},{"t":415.5,"v":1.6},{"t":416.5,"v":1.4},{"t":417.5,"v":1.2},{"t":418.5,"v":1.0},{"t":419.5,"v":0.8},{"t":420.5,"v":0.65},{"t":421.5,"v":0.55},{"t":422.5,"v":0.45},{"t":423.5,"v":0.35},{"t":424.5,"v":0.25},{"t":425.5,"v":0.15},{"t":426.5,"v":0.05},{"t":427.5,"v":-0.05},{"t":428.5,"v":0.0},{"t":429.5,"v":0.05},{"t":430.5,"v":0.15},{"t":431.5,"v":0.25},
{"t":408.25,"v":0.85},{"t":409.25,"v":0.78},{"t":410.25,"v":1.25},{"t":411.25,"v":1.18},{"t":412.25,"v":1.65},{"t":413.25,"v":1.48},{"t":414.25,"v":1.95},{"t":415.25,"v":1.58},{"t":416.25,"v":1.65},{"t":417.25,"v":1.18},{"t":418.25,"v":1.25},{"t":419.25,"v":0.78},{"t":420.25,"v":0.85},{"t":421.25,"v":0.48},{"t":422.25,"v":0.65},{"t":423.25,"v":0.28},{"t":424.25,"v":0.45},{"t":425.25,"v":0.08},{"t":426.25,"v":0.25},{"t":427.25,"v":-0.12},{"t":428.25,"v":0.1},{"t":429.25,"v":-0.12},{"t":430.25,"v":0.25},{"t":431.25,"v":0.08},
{"t":432,"v":0.3},{"t":433,"v":0.4},{"t":434,"v":0.6},{"t":435,"v":0.8},{"t":436,"v":1.0},{"t":437,"v":1.2},{"t":438,"v":1.35},{"t":439,"v":1.4},{"t":440,"v":1.2},{"t":441,"v":1.1},{"t":442,"v":0.9},{"t":443,"v":0.8},{"t":444,"v":0.6},{"t":445,"v":0.5},{"t":446,"v":0.45},
{"t":438,"v":1.1},{"t":440,"v":0.9},{"t":442,"v":1.2},{"t":444,"v":0.8},
{"t":432.5,"v":0.35},{"t":433.5,"v":0.5},{"t":434.5,"v":0.7},{"t":435.5,"v":0.9},{"t":436.5,"v":1.1},{"t":437.5,"v":1.3},{"t":438.5,"v":1.3},{"t":439.5,"v":1.3},{"t":440.5,"v":1.15},{"t":441.5,"v":1.0},{"t":442.5,"v":0.85},{"t":443.5,"v":0.7},{"t":444.5,"v":0.55},{"t":445.5,"v":0.5},
{"t":432.25,"v":0.45},{"t":433.25,"v":0.28},{"t":434.25,"v":0.75},{"t":435.25,"v":0.68},{"t":436.25,"v":1.15},{"t":437.25,"v":1.08},{"t":438.25,"v":1.5},{"t":439.25,"v":1.28},{"t":440.25,"v":1.35},{"t":441.25,"v":0.98},{"t":442.25,"v":1.05},{"t":443.25,"v":0.68},{"t":444.25,"v":0.75},{"t":445.25,"v":0.38}
]
},
"layer": [
{
  "data": {"name": "trw"},
  "mark": {"type": "line", "strokeWidth": 2.5},
  "encoding": {
    "x": {"field": "t", "type": "quantitative",
      "scale": {"domain": [0, 480], "nice": false, "zero": false},
      "axis": {"values": [0, 120, 240, 360, 480], "labelExpr": "timeFormat(datetime(2011, 5, 9 + datum.value / 24), '%d/%m/%Y')", "offset": -36.6, "title": null, "tickSize": 5, "labelPadding": 4, "labelFlush": false, "labelOverlap": false}},
    "y": {"field": "v", "type": "quantitative",
      "scale": {"domain": [-1, 9], "nice": false, "zero": false},
      "axis": {"values": [-1, 1, 3, 5, 7, 9], "title": "Canopy transpiration (mmol s⁻¹)", "titleFont": "Liberation Sans", "titleFontSize": 18, "titleFontWeight": "bold", "titleColor": "black", "titleX": -26, "titleY": 183, "titleBaseline": "alphabetic", "tickSize": -5, "labelPadding": 14}},
    "color": {"datum": "TR with f(SWC)", "type": "nominal",
      "scale": {"domain": ["Xylem sapflow", "TR with f(SWC)", "TR without f(SWC)"], "range": ["#3366FF", "#FF6600", "#99CC00"]},
      "legend": {"orient": "none", "legendX": 393, "legendY": 11, "title": null, "strokeColor": "black", "fillColor": "white", "padding": 4,
        "labelFont": "Liberation Sans", "labelFontSize": 14.5, "labelColor": "black", "symbolSize": 729, "symbolType": "stroke", "symbolStrokeWidth": 1, "symbolOffset": 7, "labelOffset": 9, "rowPadding": 7,
        "encode": {"symbols": {"update": {
          "shape": {"signal": "datum.value === 'Xylem sapflow' ? 'M-0.2,0A0.2,0.2,0,1,0,0.2,0A0.2,0.2,0,1,0,-0.2,0' : 'stroke'"},
          "stroke": {"scale": "color", "field": "value"},
          "fill": {"value": "transparent"},
          "strokeWidth": {"signal": "datum.value === 'TR with f(SWC)' ? 2.5 : 1"},
          "strokeDash": {"signal": "datum.value === 'TR without f(SWC)' ? [2, 2] : [1, 0]"},
          "size": {"value": 729},
          "opacity": {"value": 1}
        }}}}
    }
  }
},
{
  "data": {"name": "tro"},
  "mark": {"type": "line", "strokeWidth": 1, "strokeDash": [2, 2]},
  "encoding": {
    "x": {"field": "t", "type": "quantitative"},
    "y": {"field": "v", "type": "quantitative"},
    "color": {"datum": "TR without f(SWC)", "type": "nominal"}
  }
},
{
  "data": {"name": "sap"},
  "mark": {"type": "point", "filled": false, "size": 28, "strokeWidth": 1.1, "opacity": 1},
  "encoding": {
    "x": {"field": "t", "type": "quantitative"},
    "y": {"field": "v", "type": "quantitative"},
    "color": {"datum": "Xylem sapflow", "type": "nominal"}
  }
}
]
}
